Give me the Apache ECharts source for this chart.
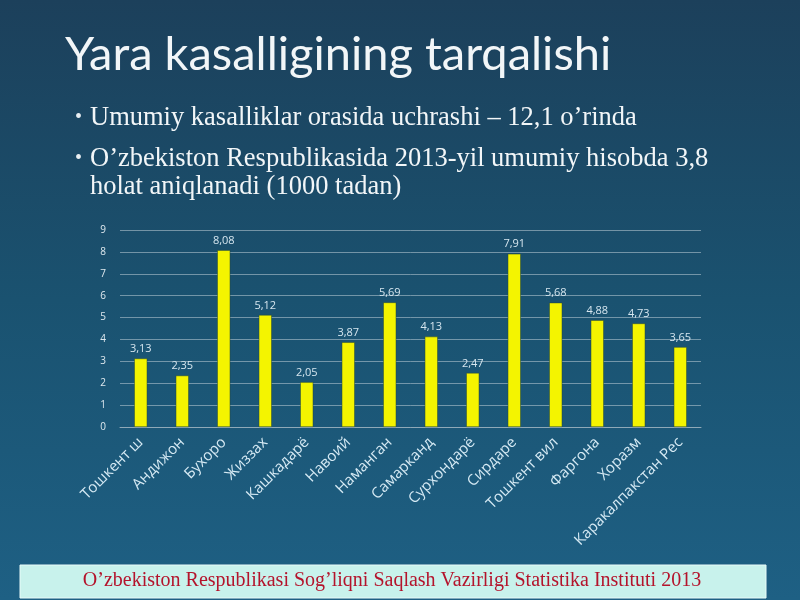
<!DOCTYPE html>
<html>
<head>
<meta charset="utf-8">
<script src="https://cdn.jsdelivr.net/npm/echarts@6/dist/echarts.min.js"></script>
<style>
  html, body { margin: 0; padding: 0; }
  #chart-container { width: 800px; height: 600px; }
</style>
</head>
<body>
<div id="chart-container"></div>
<script>
// Viloyatlar bo'yicha ko'rsatkichlar (1000 tadan)
const regions = [
    "Тошкент ш", "Андижон", "Бухоро", "Жиззах", "Кашкадарё", "Навоий", "Наманган",
    "Самарканд", "Сурхондарё", "Сирдаре", "Тошкент вил", "Фаргона", "Хоразм", "Каракалпакстан Рес"
];
const rates = [3.13, 2.35, 8.08, 5.12, 2.05, 3.87, 5.69, 4.13, 2.47, 7.91, 5.68, 4.88, 4.73, 3.65];

const titleText = "Yara kasalligining tarqalishi";
const bullets = [
    "Umumiy kasalliklar orasida uchrashi – 12,1 o’rinda",
    "O’zbekiston Respublikasida 2013-yil umumiy hisobda 3,8",
    "holat aniqlanadi (1000 tadan)"
];
const sourceText = "O’zbekiston Respublikasi Sog’liqni Saqlash Vazirligi Statistika Instituti 2013";

let dom = document.getElementById("chart-container");
let myChart = echarts.init(dom, null, { renderer: "canvas" });

const serif = "'Liberation Serif', serif";

let option = {
    backgroundColor: {
        type: "linear", x: 0, y: 0, x2: 0, y2: 1,
        colorStops: [
            { offset: 0, color: "#1c405b" },
            { offset: 0.5, color: "#1a5270" },
            { offset: 1, color: "#1e6084" },
        ],
    },
    graphic: [
        {
            type: "text", x: 65, y: 55,
            style: { text: titleText, fill: "#f2f6f8", font: "47px Lato, 'Open Sans', sans-serif", verticalAlign: "middle" },
        },
        {
            type: "text", x: 75, y: 118,
            style: { text: "•", fill: "#e8eef2", font: "20px " + serif, verticalAlign: "middle" },
        },
        {
            type: "text", x: 90, y: 118,
            style: { text: bullets[0], fill: "#f2f6f8", font: "26.5px " + serif, verticalAlign: "middle" },
        },
        {
            type: "text", x: 75, y: 159,
            style: { text: "•", fill: "#e8eef2", font: "20px " + serif, verticalAlign: "middle" },
        },
        {
            type: "text", x: 90, y: 159,
            style: { text: bullets[1], fill: "#f2f6f8", font: "26.5px " + serif, verticalAlign: "middle" },
        },
        {
            type: "text", x: 90, y: 187,
            style: { text: bullets[2], fill: "#f2f6f8", font: "26.5px " + serif, verticalAlign: "middle" },
        },
        {
            type: "rect", x: 20, y: 565,
            shape: { width: 746, height: 33 },
            style: { fill: "#c8f2ec", stroke: "#e8fbf8", lineWidth: 1 },
        },
        {
            type: "text", x: 392, y: 581,
            style: {
                text: sourceText, fill: "#b4142c", align: "center", verticalAlign: "middle",
                font: "20px " + serif,
            },
        },
    ],
    grid: { left: 120, right: 99, top: 230, bottom: 173, containLabel: false },
    xAxis: {
        type: "category",
        data: regions,
        axisLine: { lineStyle: { color: "#8fa9b8" } },
        axisTick: { show: false },
        axisLabel: {
            rotate: 45, interval: 0, margin: 13,
            color: "#d6eaf4", fontSize: 15, fontFamily: "'Open Sans', sans-serif",
        },
    },
    yAxis: {
        type: "value", min: 0, max: 9, interval: 1,
        axisLine: { show: false },
        axisTick: { show: false },
        axisLabel: { color: "#dfe9ef", fontSize: 10, margin: 14, fontFamily: "'Open Sans', sans-serif" },
        splitLine: { lineStyle: { color: "rgba(190,205,215,0.55)" } },
    },
    series: [{
        type: "bar",
        data: rates,
        barWidth: 13,
        itemStyle: { color: "#f4f400", borderColor: "#2a4a30", borderWidth: 0.5 },
        label: {
            show: true, position: "top", distance: 4,
            color: "#d6e6ef", fontSize: 11, fontFamily: "'Open Sans', sans-serif",
            formatter: (p) => p.value.toFixed(2).replace(".", ","),
        },
    }],
};

myChart.setOption(option);
window.addEventListener("resize", myChart.resize);
</script>
</body>
</html>
